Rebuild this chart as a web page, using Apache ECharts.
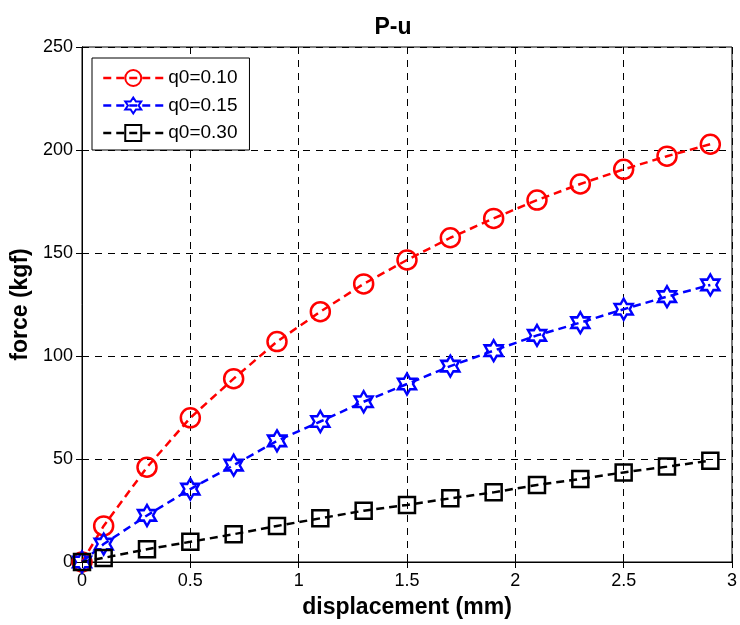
<!DOCTYPE html>
<html>
<head>
<meta charset="utf-8">
<script src="https://cdn.jsdelivr.net/npm/echarts@6/dist/echarts.min.js"></script>
<style>
    html, body { margin: 0; padding: 0; background: #fff; }
    #myChart { width: 740px; height: 625px; }
</style>
</head>
<body>
<div id="myChart"></div>
<script>
    // displacement (mm)
    var xs = [0, 0.1, 0.3, 0.5, 0.7, 0.9, 1.1, 1.3, 1.5, 1.7, 1.9, 2.1, 2.3, 2.5, 2.7, 2.9]
    // force (kgf)
    var q010 = [0, 17.5, 46, 70, 89, 107, 121.5, 135, 146.6, 157.4, 166.8, 175.7, 183.5, 190.6, 197, 202.8]
    var q015 = [0, 8.7, 22.6, 35.4, 47, 58.8, 68.2, 77.8, 86.4, 95.1, 102.6, 110, 116.2, 122.7, 128.8, 134.5]
    var q030 = [0, 2, 6.2, 9.8, 13.5, 17.5, 21.2, 24.9, 27.7, 30.9, 33.8, 37.4, 40.3, 43.5, 46.3, 49.2]
    var names = ['q0=0.10', 'q0=0.15', 'q0=0.30']

    var hexagram = 'path://M0,-100 L28.9,-50 L86.6,-50 L57.7,0 L86.6,50 L28.9,50 L0,100 L-28.9,50 L-86.6,50 L-57.7,0 L-86.6,-50 L-28.9,-50 Z'

    function pairs(ys) {
        return xs.map(function (x, i) { return [x, ys[i]] })
    }

    function makeSeries(name, ys, color, symbol, size) {
        return {
            name: name,
            type: 'line',
            data: pairs(ys),
            symbol: symbol,
            symbolSize: size,
            showAllSymbol: true,
            color: color,
            lineStyle: { color: color, width: 2.5, type: [8, 5] },
            itemStyle: { color: 'rgba(0,0,0,0)', borderColor: color, borderWidth: 2.5 },
            emphasis: { disabled: true },
            z: 3
        }
    }

    var font = 'Liberation Sans, Arial, sans-serif'
    var gridLine = { show: true, lineStyle: { color: '#000', width: 1, type: [7, 6] } }

    var chart = echarts.init(document.getElementById('myChart'))
    chart.setOption({
        backgroundColor: '#fff',
        animation: false,
        title: {
            text: 'P-u',
            left: 388,
            textAlign: 'center',
            top: 11,
            textStyle: { fontFamily: font, fontSize: 23, fontWeight: 'bold', color: '#000' }
        },
        grid: {
            left: 82, top: 47, right: 7, bottom: 63,
            show: true, borderColor: '#000', borderWidth: 1
        },
        legend: {
            data: names,
            orient: 'vertical',
            left: 92,
            top: 58,
            backgroundColor: '#fff',
            borderColor: '#000',
            borderWidth: 1,
            padding: [10, 12, 7, 10],
            itemWidth: 60,
            itemHeight: 20,
            itemGap: 7.5,
            lineStyle: { width: 2.5 },
            textStyle: { fontFamily: font, fontSize: 19, lineHeight: 20, color: '#000' }
        },
        xAxis: [{
            type: 'value',
            min: 0, max: 3, interval: 0.5,
            name: 'displacement (mm)',
            nameLocation: 'middle',
            nameGap: 34,
            nameTextStyle: { fontFamily: font, fontSize: 23, fontWeight: 'bold', color: '#000' },
            axisLine: { show: true, lineStyle: { color: '#000' } },
            axisTick: { show: true, inside: true, length: 6, lineStyle: { color: '#000' } },
            axisLabel: { fontFamily: font, fontSize: 18, color: '#000', margin: 10 },
            splitLine: gridLine
        }, {
            type: 'value', position: 'top',
            min: 0, max: 3, interval: 0.5,
            axisLine: { show: true, lineStyle: { color: '#000' } },
            axisTick: { show: true, inside: true, length: 6, lineStyle: { color: '#000' } },
            axisLabel: { show: false },
            splitLine: { show: false }
        }],
        yAxis: [{
            type: 'value',
            min: 0, max: 250, interval: 50,
            name: 'force (kgf)',
            nameLocation: 'middle',
            nameGap: 49,
            nameTextStyle: { fontFamily: font, fontSize: 23, fontWeight: 'bold', color: '#000' },
            axisLine: { show: true, lineStyle: { color: '#000' } },
            axisTick: { show: true, inside: true, length: 6, lineStyle: { color: '#000' } },
            axisLabel: { fontFamily: font, fontSize: 18, color: '#000', margin: 9 },
            splitLine: gridLine
        }, {
            type: 'value', position: 'right',
            min: 0, max: 250, interval: 50,
            axisLine: { show: true, lineStyle: { color: '#000' } },
            axisTick: { show: true, inside: true, length: 6, lineStyle: { color: '#000' } },
            axisLabel: { show: false },
            splitLine: { show: false }
        }],
        series: [
            makeSeries(names[0], q010, '#ff0000', 'circle', 19),
            makeSeries(names[1], q015, '#0000ff', hexagram, [18, 21]),
            makeSeries(names[2], q030, '#000000', 'rect', 16)
        ]
    })
</script>
</body>
</html>
